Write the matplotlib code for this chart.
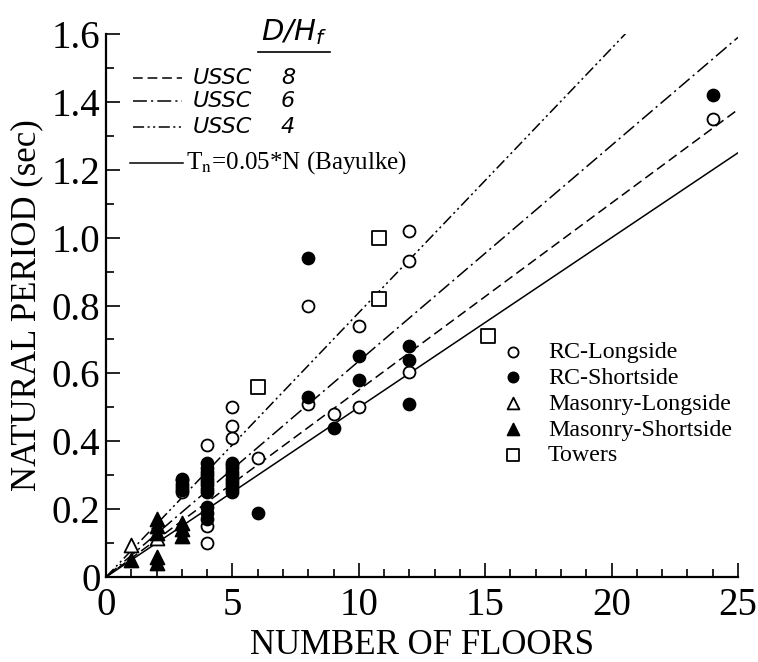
import numpy as np
import matplotlib

matplotlib.use("Agg")
import matplotlib.pyplot as plt
from matplotlib.ticker import MultipleLocator, FixedLocator

# --- data ---
rc_long_floors = [3, 4, 4, 4, 5, 5, 5, 6, 8, 8, 9, 10, 10, 12, 12, 12, 24]
rc_long_period = [0.25, 0.39, 0.15, 0.10, 0.50, 0.445, 0.41, 0.35, 0.80, 0.51,
                  0.48, 0.74, 0.50, 1.02, 0.93, 0.605, 1.35]

rc_short_floors = [3, 3, 3, 3, 3,
                   4, 4, 4, 4, 4, 4, 4, 4, 4, 4, 4, 4,
                   5, 5, 5, 5, 5, 5, 5, 5, 5, 5,
                   6, 8, 8, 9, 10, 10, 12, 12, 12, 24]
rc_short_period = [0.255, 0.265, 0.275, 0.285, 0.29,
                   0.25, 0.26, 0.27, 0.28, 0.29, 0.30, 0.31, 0.32, 0.335, 0.17, 0.19, 0.205,
                   0.25, 0.26, 0.27, 0.28, 0.29, 0.30, 0.31, 0.32, 0.33, 0.335,
                   0.19, 0.94, 0.53, 0.44, 0.65, 0.58, 0.68, 0.64, 0.51, 1.42]

mas_long_floors = [1, 2]
mas_long_period = [0.095, 0.115]

mas_short_floors = [1, 2, 2, 2, 2, 2, 3, 3, 3]
mas_short_period = [0.05, 0.17, 0.15, 0.13, 0.06, 0.04, 0.16, 0.14, 0.12]

tower_floors = [6, 10.8, 10.8, 15.1]
tower_period = [0.56, 1.00, 0.82, 0.71]

# line slopes (period per floor)
ussc_ratios = ["8", "6", "4"]
ussc_slopes = [0.0551, 0.0636, 0.0779]
bayulke_slope = 0.05
line_floors = np.array([0, 25])

plt.rcParams["font.family"] = ["Liberation Serif", "DejaVu Serif"]
plt.rcParams["mathtext.fontset"] = "stix"
plt.rcParams["lines.scale_dashes"] = False

W, H = 758, 662
fig = plt.figure(figsize=(W / 100, H / 100), dpi=100)
ax = fig.add_axes([106 / W, 85 / H, 632 / W, 543 / H])


def px(x, y):
    # pixel position (from top-left) -> figure fraction
    return x / W, 1 - y / H


dash_styles = [(0, (7, 3.5)), (0, (10, 3, 1.5, 3)), (0, (8, 2.5, 1.5, 2.5, 1.5, 2.5))]

for slope, ls in zip(ussc_slopes, dash_styles):
    ax.plot(line_floors, slope * line_floors, color="black", lw=1.1, ls=ls, zorder=2)
ax.plot(line_floors, bayulke_slope * line_floors, color="black", lw=1.1, zorder=2)

mk = dict(edgecolors="black", linewidths=1.3, zorder=3)
h_rcl = ax.scatter(rc_long_floors, rc_long_period, s=74, marker="o", facecolors="white", **mk)
h_masl = ax.scatter(mas_long_floors, mas_long_period, s=100, marker="^", facecolors="white", **mk)
h_tow = ax.scatter(tower_floors, tower_period, s=88, marker="s", facecolors="white", **mk)
h_rcs = ax.scatter(rc_short_floors, rc_short_period, s=74, marker="o", facecolors="black", **mk)
h_mass = ax.scatter(mas_short_floors, mas_short_period, s=100, marker="^", facecolors="black", **mk)

ax.set_xlim(0, 25)
ax.set_ylim(0, 1.6)
ax.xaxis.set_major_locator(FixedLocator([0, 5, 10, 15, 20, 25]))
ax.xaxis.set_minor_locator(MultipleLocator(1))
ax.yaxis.set_major_locator(FixedLocator([0, 0.2, 0.4, 0.6, 0.8, 1.0, 1.2, 1.4, 1.6]))
ax.yaxis.set_minor_locator(MultipleLocator(0.1))
ax.set_yticklabels(["0", "0.2", "0.4", "0.6", "0.8", "1.0", "1.2", "1.4", "1.6"])
ax.set_xticklabels(["0", "5", "10", "15", "20", "25"])

for side in ["top", "right"]:
    ax.spines[side].set_visible(False)
for side in ["left", "bottom"]:
    ax.spines[side].set_linewidth(1.6)
ax.tick_params(which="both", direction="in", width=1.2, labelsize=28, pad=4)
ax.tick_params(which="major", length=10)
ax.tick_params(which="minor", length=5.5)
ax.tick_params(axis="x", pad=7)

ax.set_xlabel("NUMBER OF FLOORS", fontsize=25, labelpad=4)
ax.set_ylabel("NATURAL PERIOD (sec)", fontsize=25, labelpad=6)

# top-left line legend
fig.text(*px(294, 32), "D/H$_f$", fontsize=21, family="DejaVu Sans", style="italic",
         math_fontfamily="dejavusans", ha="center", va="center")
fig.add_artist(plt.Line2D([258 / W, 330 / W], [1 - 52 / H, 1 - 52 / H], color="black", lw=1.2))
rows_y = [78, 101, 127]
for ratio, ls, y in zip(ussc_ratios, dash_styles, rows_y):
    fig.add_artist(plt.Line2D([133 / W, 182 / W], [1 - y / H, 1 - y / H],
                              color="black", lw=1.1, ls=ls))
    fig.text(*px(193, y), "USSC", fontsize=16, family="DejaVu Sans", style="italic",
             ha="left", va="center")
    fig.text(*px(288, y), ratio, fontsize=16, family="DejaVu Sans", style="italic",
             ha="center", va="center")
fig.add_artist(plt.Line2D([130 / W, 183 / W], [1 - 163 / H, 1 - 163 / H], color="black", lw=1.1))
fig.text(*px(186, 163), r"T$_{\mathrm{n}}$=0.05*N (Bayulke)", fontsize=18,
         ha="left", va="center")

# marker legend
ax.legend(
    [h_rcl, h_rcs, h_masl, h_mass, h_tow],
    ["RC-Longside", "RC-Shortside", "Masonry-Longside", "Masonry-Shortside", "Towers"],
    loc="upper left",
    bbox_to_anchor=(501 / W, 1 - 341 / H),
    bbox_transform=fig.transFigure,
    frameon=False,
    fontsize=17.3,
    borderpad=0,
    borderaxespad=0,
    handlelength=1.0,
    handletextpad=0.95,
    labelspacing=0.17,
    scatterpoints=1,
    markerscale=0.85,
)

fig.savefig("out.png", dpi=100)
